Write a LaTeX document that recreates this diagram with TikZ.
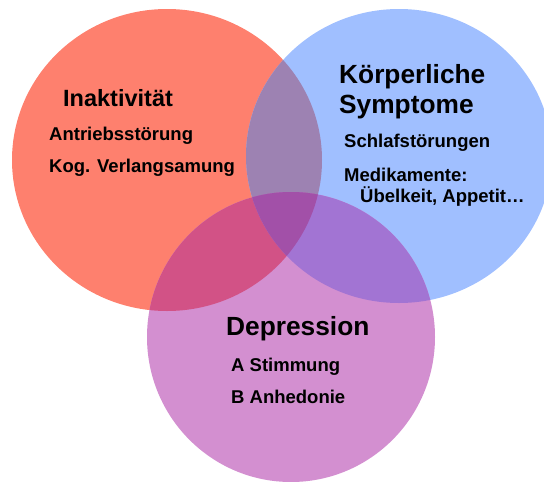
\documentclass[tikz,border=0pt]{standalone}
\usepackage{fontspec}
\setmainfont{Liberation Sans}
\definecolor{redc}{RGB}{254,128,110}
\definecolor{bluec}{RGB}{160,191,255}
\definecolor{purc}{RGB}{211,143,208}
\definecolor{rbc}{RGB}{157,130,178}
\definecolor{rpc}{RGB}{210,82,134}
\definecolor{bpc}{RGB}{162,116,211}
\definecolor{rbpc}{RGB}{162,80,168}
\tikzset{
  txt/.style={anchor=base west, inner sep=0pt, font=\bfseries\fontsize{18.5}{20}\selectfont},
  head/.style={anchor=base west, inner sep=0pt, font=\bfseries\fontsize{26.3}{28}\selectfont}
}
\begin{document}
\begin{tikzpicture}[x=1pt,y=-1pt]
\useasboundingbox (0,0) rectangle (544,482);
\clip (0,0) rectangle (544,482);
% base circles
\fill[redc] (167,160) ellipse [x radius=155pt, y radius=151pt];
\fill[bluec] (399,156) ellipse [x radius=153pt, y radius=147pt];
\fill[purc] (291,337) ellipse [x radius=144pt, y radius=145pt];
% red & blue
\begin{scope}
  \clip (167,160) ellipse [x radius=155pt, y radius=151pt];
  \fill[rbc] (399,156) ellipse [x radius=153pt, y radius=147pt];
\end{scope}
% red & purple
\begin{scope}
  \clip (167,160) ellipse [x radius=155pt, y radius=151pt];
  \fill[rpc] (291,337) ellipse [x radius=144pt, y radius=145pt];
\end{scope}
% blue & purple
\begin{scope}
  \clip (399,156) ellipse [x radius=153pt, y radius=147pt];
  \fill[bpc] (291,337) ellipse [x radius=144pt, y radius=145pt];
\end{scope}
% all three
\begin{scope}
  \clip (167,160) ellipse [x radius=155pt, y radius=151pt];
  \clip (399,156) ellipse [x radius=153pt, y radius=147pt];
  \fill[rbpc] (291,337) ellipse [x radius=144pt, y radius=145pt];
\end{scope}
% texts
\node[head, font=\bfseries\fontsize{23.5}{25}\selectfont] (inak) at (63,106) {Inaktivität};
\node[txt] (antr) at (49,140) {Antriebsstörung};
\node[txt] (kog) at (49,172) {Kog. Verlangsamung};
\node[head] (koerp) at (339,83) {Körperliche};
\node[head] (sympt) at (339,113) {Symptome};
\node[txt] (schlaf) at (344,147) {Schlafstörungen};
\node[txt] (medi) at (344,181) {Medikamente:};
\node[txt] (uebel) at (360,202) {Übelkeit, Appetit…};
\node[head] (depr) at (226,335) {Depression};
\node[txt] (stimm) at (231,371) {A Stimmung};
\node[txt] (anhed) at (231,403) {B Anhedonie};
\end{tikzpicture}
\end{document}
